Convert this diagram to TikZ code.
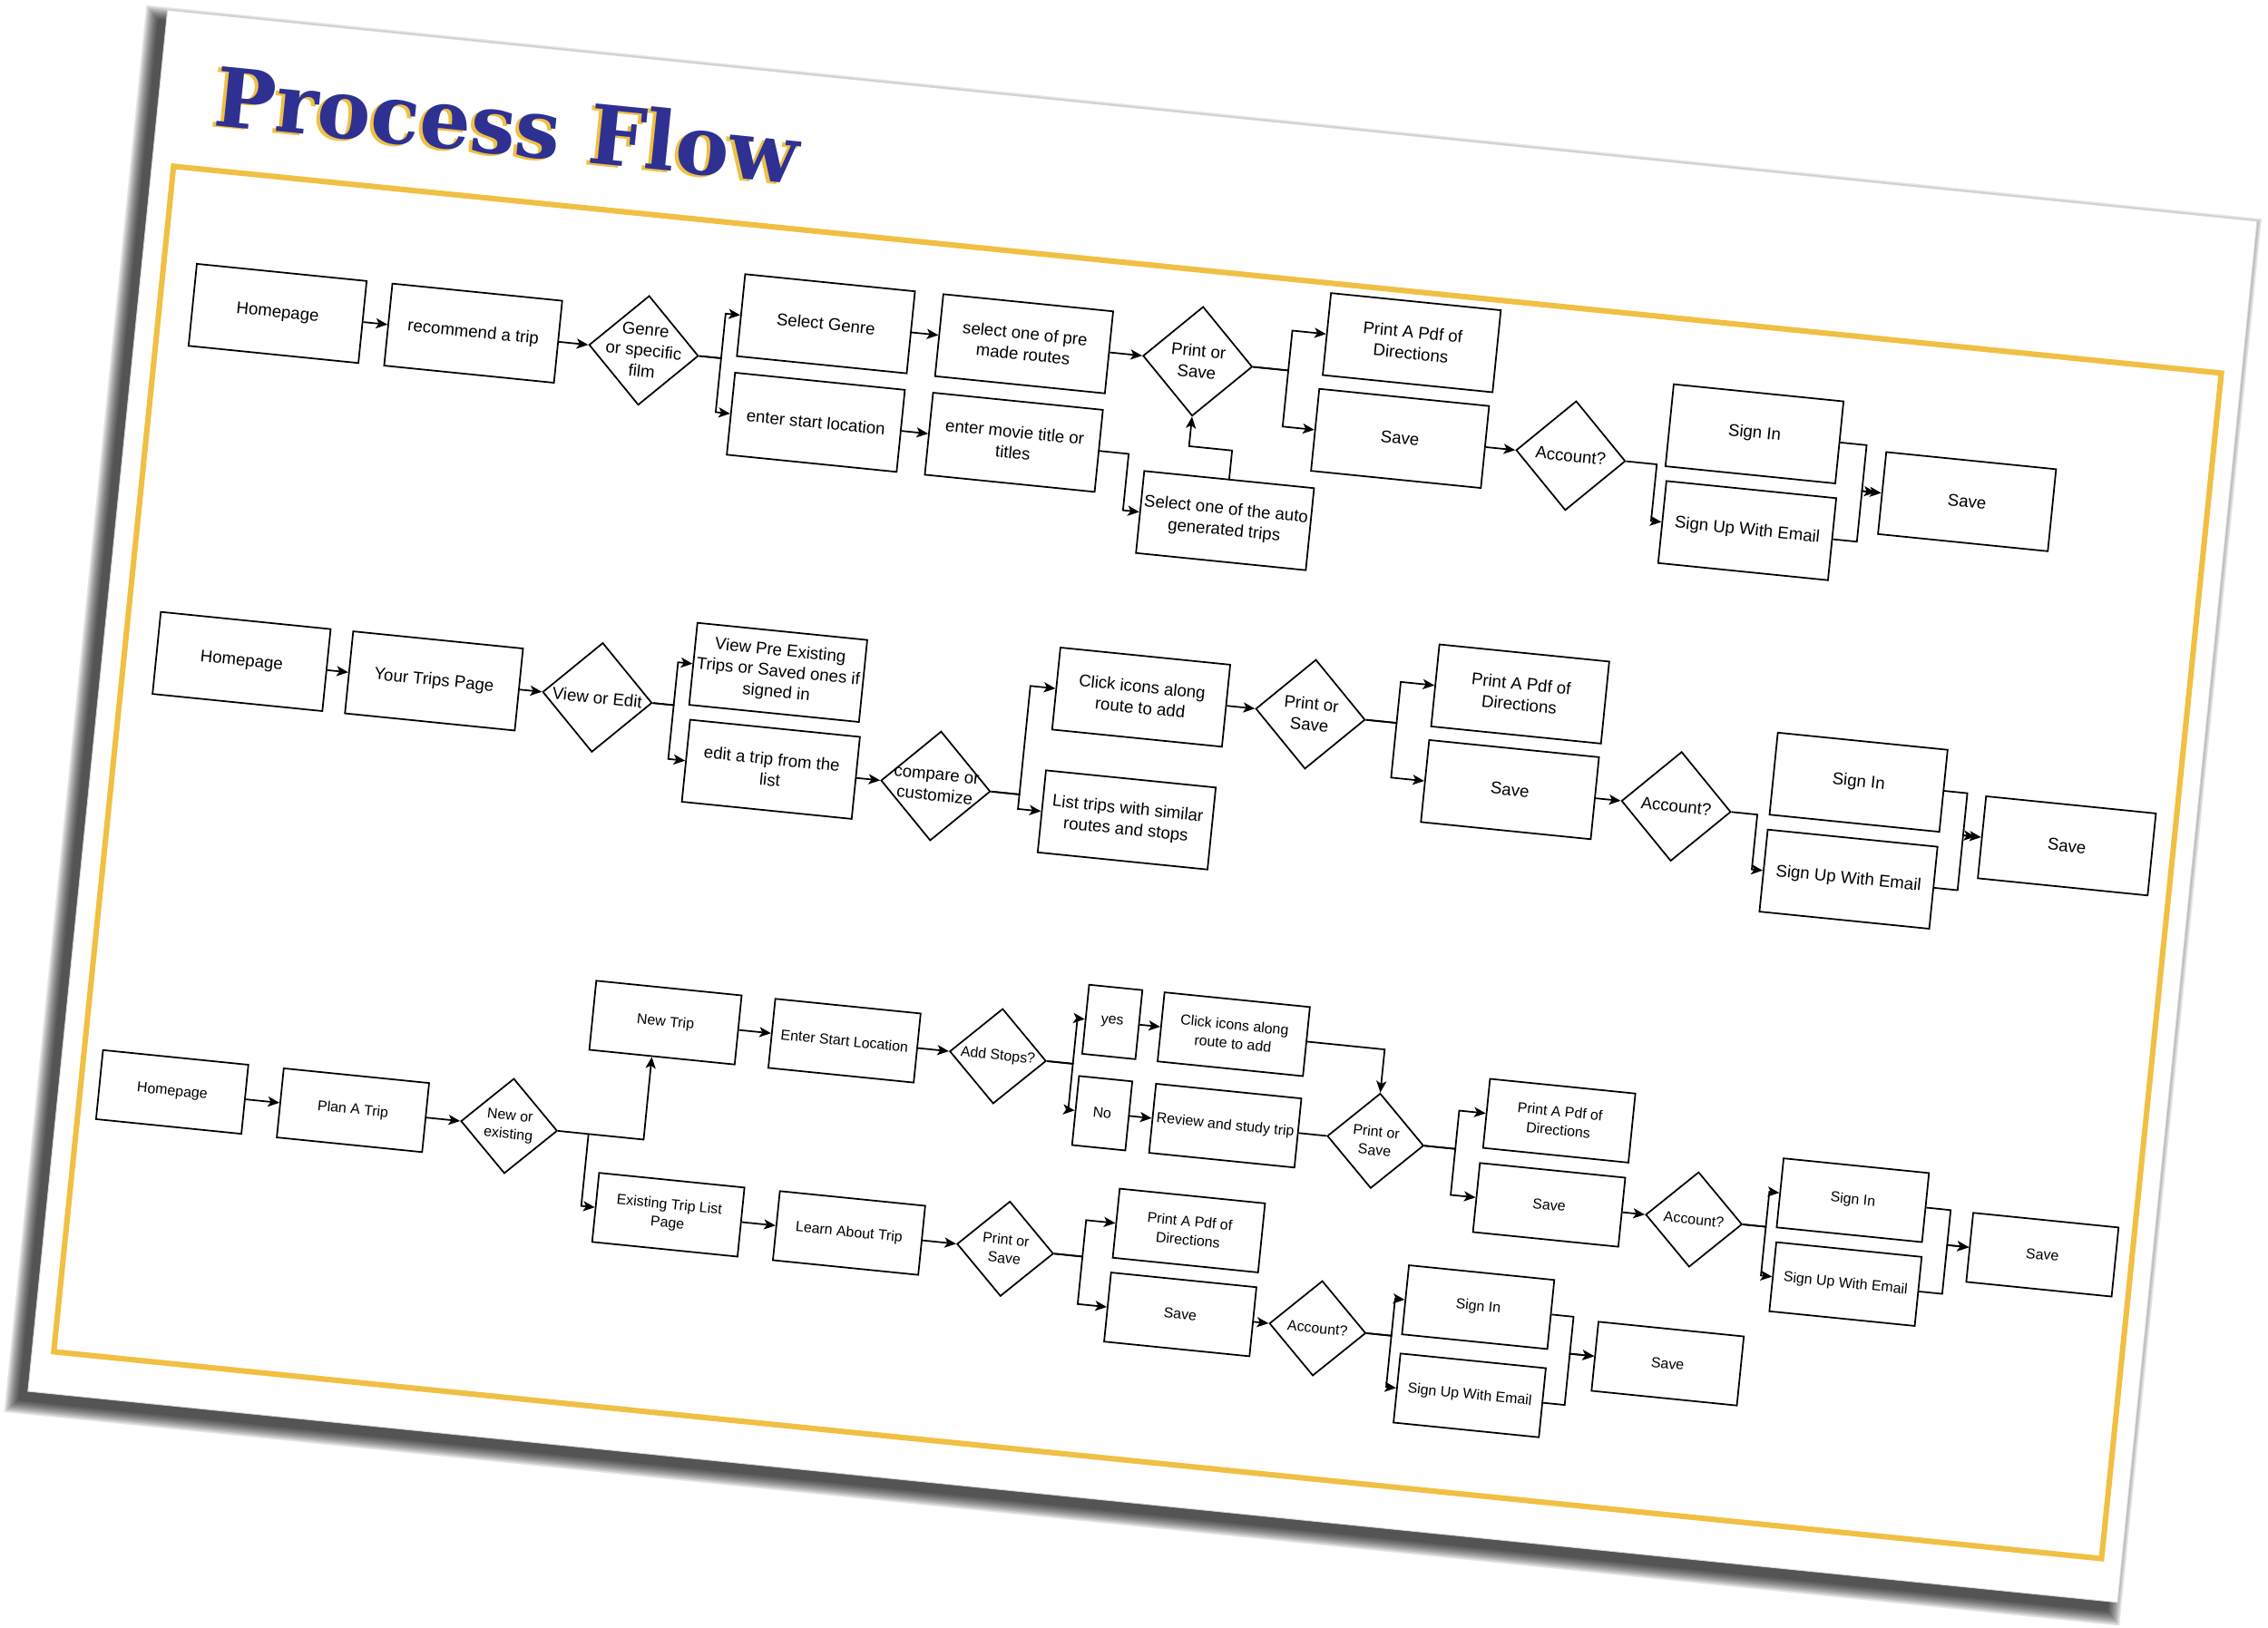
\documentclass[tikz,border=0pt]{standalone}
\usepackage{fontspec}
\setmainfont{Liberation Sans}
\newfontfamily\titlefont{DejaVu Serif}
\usetikzlibrary{shapes.geometric,arrows.meta}
\definecolor{gold}{HTML}{F0C043}
\definecolor{navy}{HTML}{2E3192}
\newcommand\fsA{\fontsize{11.7pt}{14.5pt}\selectfont}
\newcommand\fsB{\fontsize{10pt}{13pt}\selectfont}
\tikzset{
 bx/.style={draw, line width=1.1pt, fill=white, rectangle, minimum width=118pt, minimum height=57pt, inner sep=0pt, align=center, font=\fsA},
 bs/.style={bx, minimum width=101pt, minimum height=48pt, font=\fsB},
 bn/.style={bs, minimum width=37pt},
 dm/.style={draw, line width=1.1pt, fill=white, diamond, minimum width=76pt, minimum height=76pt, inner sep=0pt},
 ds/.style={dm, minimum width=67pt, minimum height=66pt},
 dt/.style={align=center, font=\fsA, inner sep=0pt},
 dts/.style={dt, font=\fsB},
 ar/.style={line width=1.1pt, -{Stealth[length=8pt,width=7pt,inset=2pt]}},
 ln/.style={line width=1.1pt},
}
\begin{document}
\begin{tikzpicture}[x=1pt,y=-1pt]
\useasboundingbox (0,0) rectangle (1568,1125.2);
\fill[white] (0,0) rectangle (1568,1125.2);
\begin{scope}[shift={(120,115)},rotate=-5.77,transform shape]
 % page shadow and page
 \foreach \k in {0,...,9} \fill[black,opacity=0.1] (-21-\k,-100-\k) rectangle (1431+\k,860+\k);
 \fill[white,draw=black!15,line width=0.6pt] (-15,-107) rectangle (1437,853);
 % title
 \node[anchor=base west, inner sep=0pt, text=gold] (tg) at (21.6,-29.6) {\resizebox{405pt}{43pt}{\titlefont\bfseries Process Flow}};
 \node[anchor=base west, inner sep=0pt, text=navy] (tn) at (24,-31) {\resizebox{405pt}{43pt}{\titlefont\bfseries Process Flow}};
 % gold frame
 \draw[gold, line width=3.8pt] (0,0) rectangle (1423,824);

 % ---------- Row 1 ----------
 \node[bx] (a1) at (81.8,94) {Homepage};
 \node[bx] (a2) at (217.7,94) {recommend a trip};
 \node[dm] (a3) at (336.2,94) {}; \node[dt] (a3t) at (a3) {Genre\\or specific\\film};
 \node[bx] (a4) at (459.7,63) {Select Genre};
 \node[bx] (a5) at (459.6,131.5) {enter start location};
 \node[bx] (a6) at (597.4,63) {select one of pre\\made routes};
 \node[bx] (a7) at (597.2,131.5) {enter movie title or\\titles};
 \node[dm] (a8) at (718,63) {}; \node[dt] (a8t) at (a8) {Print or\\Save};
 \node[bx] (a9) at (747.9,170.7) {Select one of the auto\\generated trips};
 \node[bx] (a10) at (864,35.3) {Print A Pdf of\\Directions};
 \node[bx] (a11) at (862.6,102) {Save};
 \node[dm] (a12) at (981.2,102) {}; \node[dt] (a12t) at (a12) {Account?};
 \node[bx] (a13) at (1106.1,74.2) {Sign In};
 \node[bx] (a14) at (1107.8,141.3) {Sign Up With Email};
 \node[bx] (a15) at (1257,106.1) {Save};

 \draw[ar] (a1) -- (a2);
 \draw[ar] (a2) -- (a3);
 \draw[ar] (a3.east) -- (390,94) -- (390,63) -- (a4.west);
 \draw[ar] (a3.east) -- (390,94) -- (390,131.5) -- (a5.west);
 \draw[ar] (a4) -- (a6);
 \draw[ar] (a5) -- (a7);
 \draw[ar] (a6) -- (a8);
 \draw[ar] (a7.east) -- (677,131.5) -- (677,170.7) -- (a9.west);
 \draw[ar] (a9.north) -- (747.9,122) -- (718,122) -- (a8.south);
 \draw[ar] (a8.east) -- (781,63) -- (781,35.3) -- (a10.west);
 \draw[ar] (a8.east) -- (781,63) -- (781,102) -- (a11.west);
 \draw[ar] (a11) -- (a12);
 \draw[ar] (a12.east) -- (1041,102) -- (1041,141.3) -- (a14.west);
 \draw[ar] (a13.east) -- (1184,74.2) -- (1184,106.1) -- (a15.west);
 \draw[ar, shorten >=4pt] (a14.east) -- (1184,141.3) -- (1184,106.1) -- (a15.west);

 % ---------- Row 2 ----------
 \node[bx] (b1) at (81.2,336) {Homepage};
 \node[bx] (b2) at (214.9,336) {Your Trips Page};
 \node[dm] (b3) at (328.4,336) {}; \node[dt] (b3t) at (b3) {View or Edit};
 \node[bx] (b4) at (451.1,306.2) {View Pre Existing\\Trips or Saved ones if\\signed in};
 \node[bx] (b5) at (452.8,373.4) {edit a trip from the\\list};
 \node[dm] (b6) at (567.3,373.4) {}; \node[dt] (b6t) at (b6) {compare or\\customize};
 \node[bx] (b7) at (702.5,298) {Click icons along\\route to add};
 \node[bx] (b8) at (701.1,383.5) {List trips with similar\\routes and stops};
 \node[dm] (b9) at (820.1,298) {}; \node[dt] (b9t) at (b9) {Print or\\Save};
 \node[bx] (b10) at (963,269.5) {Print A Pdf of\\Directions};
 \node[bx] (b11) at (962.6,336) {Save};
 \node[dm] (b12) at (1078.1,336) {}; \node[dt] (b12t) at (b12) {Account?};
 \node[bx] (b13) at (1201.9,306.7) {Sign In};
 \node[bx] (b14) at (1201.7,374.1) {Sign Up With Email};
 \node[bx] (b15) at (1349.6,336) {Save};

 \draw[ar] (b1) -- (b2);
 \draw[ar] (b2) -- (b3);
 \draw[ar] (b3.east) -- (381.5,336) -- (381.5,306.2) -- (b4.west);
 \draw[ar] (b3.east) -- (381.5,336) -- (381.5,373.4) -- (b5.west);
 \draw[ar] (b5) -- (b6);
 \draw[ar] (b6.east) -- (625.5,373.4) -- (625.5,298) -- (b7.west);
 \draw[ar] (b6.east) -- (625.5,373.4) -- (625.5,383.5) -- (b8.west);
 \draw[ar] (b7) -- (b9);
 \draw[ar] (b9.east) -- (880,298) -- (880,269.5) -- (b10.west);
 \draw[ar] (b9.east) -- (880,298) -- (880,336) -- (b11.west);
 \draw[ar] (b11) -- (b12);
 \draw[ar] (b12.east) -- (1134.5,336) -- (1134.5,374.1) -- (b14.west);
 \draw[ar] (b13.east) -- (1277.5,306.7) -- (1277.5,336) -- (b15.west);
 \draw[ar, shorten >=4pt] (b14.east) -- (1277.5,374.1) -- (1277.5,336) -- (b15.west);

 % ---------- Row 3 ----------
 \node[bs] (c1) at (63.4,637) {Homepage};
 \node[bs] (c2) at (189,637) {Plan A Trip};
 \node[ds] (c3) at (297.5,637) {}; \node[dts] (c3t) at (c3) {New or\\existing};
 \node[bs] (c4) at (397.9,555) {New Trip};
 \node[bs] (c5) at (522.3,555) {Enter Start Location};
 \node[ds] (c6) at (628.9,555) {}; \node[dts] (c6t) at (c6) {Add Stops?};
 \node[bn] (c7) at (705.2,523.5) {yes};
 \node[bn] (c8) at (704.6,587) {No};
 \node[bs] (c9) at (789.6,523.5) {Click icons along\\route to add};
 \node[bs] (c10) at (790.1,587) {Review and study trip};
 \node[ds] (c11) at (894.5,587) {}; \node[dts] (c11t) at (c11) {Print or\\Save};
 \node[bs] (c12) at (1019.5,560.4) {Print A Pdf of\\Directions};
 \node[bs] (c13) at (1018.4,619) {Save};
 \node[ds] (c14) at (1119,619) {}; \node[dts] (c14t) at (c14) {Account?};
 \node[bs] (c15) at (1227,594.7) {Sign In};
 \node[bs] (c16) at (1227.8,652.9) {Sign Up With Email};
 \node[bs] (c17) at (1361.2,619) {Save};
 \node[bs] (c18) at (413.2,687) {Existing Trip List\\Page};
 \node[bs] (c19) at (538.8,687) {Learn About Trip};
 \node[ds] (c20) at (647.3,687) {}; \node[dts] (c20t) at (c20) {Print or\\Save};
 \node[bs] (c21) at (772.4,661.7) {Print A Pdf of\\Directions};
 \node[bs] (c22) at (772.3,720) {Save};
 \node[ds] (c23) at (867.7,720) {}; \node[dts] (c23t) at (c23) {Account?};
 \node[bs] (c24) at (976.7,694.3) {Sign In};
 \node[bs] (c25) at (977,755.6) {Sign Up With Email};
 \node[bs] (c26) at (1111,720) {Save};

 \draw[ar] (c1) -- (c2);
 \draw[ar] (c2) -- (c3);
 \draw[ar] (c3.east) -- (391,637) -- (c4.-106);
 \coordinate (j3) at (352.7,637);
 \draw[ar] (j3) -- (352.7,687) -- (c18.west);
 \draw[ar] (c4) -- (c5);
 \draw[ar] (c5) -- (c6);
 \draw[ar] (c6.east) -- (681,555) -- (681,523.5) -- (c7.west);
 \draw[ar] (c6.east) -- (681,555) -- (681,587) -- (c8.west);
 \draw[ar] (c7) -- (c9);
 \draw[ar] (c8) -- (c10);
 \draw[ar] (c9.east) -- (894.5,523.5) -- (c11.north);
 \draw[ln] (c10) -- (c11);
 \draw[ar] (c11.east) -- (950,587) -- (950,560.4) -- (c12.west);
 \draw[ar] (c11.east) -- (950,587) -- (950,619) -- (c13.west);
 \draw[ar] (c13) -- (c14);
 \draw[ar] (c14.east) -- (1169,619) -- (1169,594.7) -- (c15.west);
 \draw[ar] (c14.east) -- (1169,619) -- (1169,652.9) -- (c16.west);
 \draw[ar] (c15.east) -- (1295,594.7) -- (1295,619) -- (c17.west);
 \draw[ar] (c16.east) -- (1295,652.9) -- (1295,619) -- (c17.west);
 \draw[ar] (c18) -- (c19);
 \draw[ar] (c19) -- (c20);
 \draw[ar] (c20.east) -- (701,687) -- (701,661.7) -- (c21.west);
 \draw[ar] (c20.east) -- (701,687) -- (701,720) -- (c22.west);
 \draw[ar] (c22) -- (c23);
 \draw[ar] (c23.east) -- (919,720) -- (919,694.3) -- (c24.west);
 \draw[ar] (c23.east) -- (919,720) -- (919,755.6) -- (c25.west);
 \draw[ar] (c24.east) -- (1043,694.3) -- (1043,720) -- (c26.west);
 \draw[ar] (c25.east) -- (1043,755.6) -- (1043,720) -- (c26.west);
\end{scope}
\end{tikzpicture}
\end{document}
